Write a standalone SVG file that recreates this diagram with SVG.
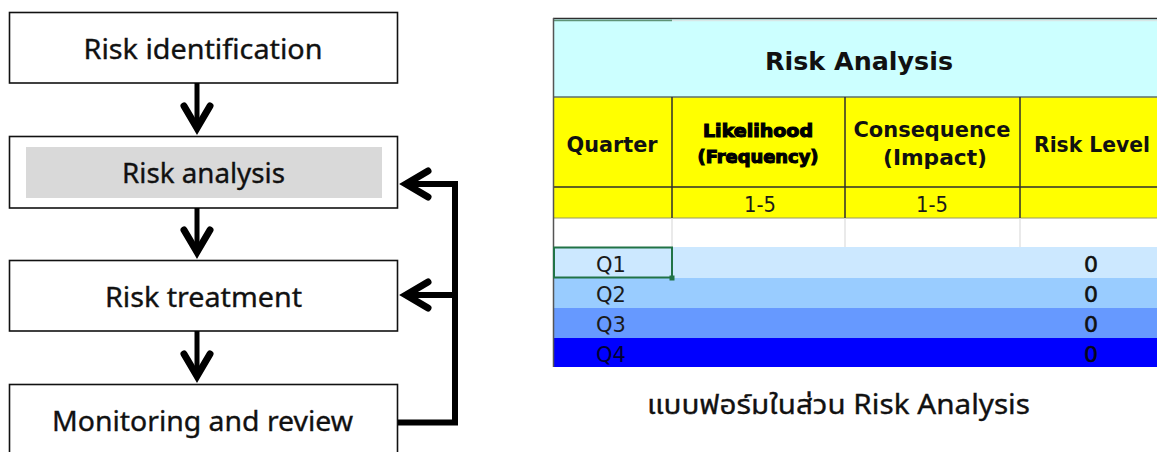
<svg xmlns="http://www.w3.org/2000/svg" width="1157" height="452" viewBox="0 0 1157 452">
  <style>
    .box { fill: #ffffff; stroke: #111111; stroke-width: 1.6; }
    .lbl { font-family: "Noto Sans", "DejaVu Sans", sans-serif; font-size: 27.5px; fill: #111111; stroke: #111111; stroke-width: 0.35; text-anchor: middle; }
    .flow { fill: none; stroke: #000000; stroke-width: 5; }
    .loop { fill: none; stroke: #000000; stroke-width: 6; stroke-linejoin: miter; }
    .th { font-family: "DejaVu Sans", Verdana, sans-serif; font-weight: bold; font-size: 21px; fill: #111111; text-anchor: middle; }
    .title { font-family: "DejaVu Sans", Verdana, sans-serif; font-weight: bold; font-size: 25px; fill: #111111; text-anchor: middle; }
    .heavy { font-family: "DejaVu Sans", sans-serif; font-weight: bold; font-size: 17px; fill: #000000; stroke: #000000; stroke-width: 1.1; text-anchor: middle; }
    .td { font-family: "DejaVu Sans", Verdana, sans-serif; font-size: 21px; fill: #1a1a1a; text-anchor: middle; }
    .num { font-family: "DejaVu Sans", Verdana, sans-serif; font-size: 22px; fill: #111111; stroke: #111111; stroke-width: 0.6; text-anchor: middle; }
    .grid { stroke: #2e2e2e; stroke-width: 1.5; }
    .faint { stroke: #dcdcdc; stroke-width: 1.2; }
    .caption { font-family: "Noto Sans", "Noto Sans Thai", "DejaVu Sans", sans-serif; font-size: 27px; fill: #111111; stroke: #111111; stroke-width: 0.35; }
  </style>
  <defs>
    <!-- open chevron head; the ref point is the inner vertex -->
    <marker id="chev" markerUnits="userSpaceOnUse" viewBox="-30 -20 44 40" markerWidth="44" markerHeight="40" refX="0" refY="0" orient="auto" overflow="visible">
      <path d="M-22,-13 L0,0 L-22,13" fill="none" stroke="#000000" stroke-width="7" stroke-linecap="round" stroke-linejoin="miter"/>
    </marker>
    <clipPath id="sheet">
      <rect x="552" y="16" width="605" height="351"/>
    </clipPath>
  </defs>

  <!-- process steps -->
  <g id="risk-identification">
    <rect class="box" x="9.5" y="12.5" width="388" height="70.5"/>
    <text class="lbl" x="203" y="59" textLength="239" lengthAdjust="spacingAndGlyphs">Risk identification</text>
  </g>
  <g id="risk-analysis">
    <rect class="box" x="9.5" y="136.5" width="388" height="71.5"/>
    <rect x="26" y="147" width="356" height="51" fill="#d9d9d9"/>
    <text class="lbl" x="203.5" y="183" textLength="163" lengthAdjust="spacingAndGlyphs">Risk analysis</text>
  </g>
  <g id="risk-treatment">
    <rect class="box" x="9.5" y="260.5" width="388" height="70.5"/>
    <text class="lbl" x="203.5" y="307" textLength="197" lengthAdjust="spacingAndGlyphs">Risk treatment</text>
  </g>
  <g id="monitoring-review">
    <rect class="box" x="9.5" y="384.5" width="388" height="70"/>
    <text class="lbl" x="202.5" y="431" textLength="301" lengthAdjust="spacingAndGlyphs">Monitoring and review</text>
  </g>

  <!-- connectors -->
  <g id="connectors">
    <path class="flow" d="M197,83 V128" marker-end="url(#chev)"/>
    <path class="flow" d="M197,208 V252" marker-end="url(#chev)"/>
    <path class="flow" d="M197,331 V376" marker-end="url(#chev)"/>
    <path class="loop" d="M398,422.5 H455 V184 H406" marker-end="url(#chev)"/>
    <path class="loop" d="M455,295 H406" marker-end="url(#chev)"/>
  </g>

  <!-- worksheet excerpt -->
  <g id="risk-analysis-sheet" clip-path="url(#sheet)">
    <rect x="553" y="19" width="604" height="78" fill="#ccffff"/>
    <rect x="553" y="97" width="604" height="121" fill="#ffff00"/>
    <rect x="553" y="218" width="604" height="29" fill="#ffffff"/>
    <rect x="553" y="247" width="604" height="31" fill="#cce8ff"/>
    <rect x="553" y="278" width="604" height="30" fill="#99ccff"/>
    <rect x="553" y="308" width="604" height="30" fill="#6699ff"/>
    <rect x="553" y="338" width="604" height="30" fill="#0000ff"/>

    <line class="grid" x1="553" y1="18.5" x2="1157" y2="18.5"/>
    <line x1="554" y1="20.5" x2="672" y2="20.5" stroke="#5f9477" stroke-width="1.5"/>
    <line x1="672" y1="20.5" x2="1157" y2="20.5" stroke="#d8e6e6" stroke-width="1.5"/>
    <line x1="553" y1="97" x2="1157" y2="97" stroke="#5c6e6e" stroke-width="1.5"/>
    <line class="grid" x1="553" y1="187" x2="1157" y2="187"/>
    <line x1="553" y1="218" x2="1157" y2="218" stroke="#9a9a60" stroke-width="1"/>
    <line class="grid" x1="672" y1="97" x2="672" y2="218"/>
    <line class="grid" x1="845" y1="97" x2="845" y2="218"/>
    <line class="grid" x1="1020" y1="97" x2="1020" y2="218"/>
    <line class="faint" x1="672" y1="218" x2="672" y2="247"/>
    <line class="faint" x1="845" y1="218" x2="845" y2="247"/>
    <line class="faint" x1="1020" y1="218" x2="1020" y2="247"/>
    <line x1="553.5" y1="18" x2="553.5" y2="368" stroke="#555555" stroke-width="1.5"/>

    <text class="title" x="859" y="70" textLength="188" lengthAdjust="spacingAndGlyphs">Risk Analysis</text>
    <text class="th" x="612" y="152" textLength="91" lengthAdjust="spacingAndGlyphs">Quarter</text>
    <text class="heavy" x="758" y="137" textLength="110" lengthAdjust="spacingAndGlyphs">Likelihood</text>
    <text class="heavy" x="758" y="163" textLength="121" lengthAdjust="spacingAndGlyphs">(Frequency)</text>
    <text class="th" x="932" y="137" textLength="157" lengthAdjust="spacingAndGlyphs">Consequence</text>
    <text class="th" x="935" y="165" textLength="104" lengthAdjust="spacingAndGlyphs">(Impact)</text>
    <text class="th" x="1092" y="152" textLength="116" lengthAdjust="spacingAndGlyphs">Risk Level</text>
    <text class="td" x="760" y="212" textLength="32" lengthAdjust="spacingAndGlyphs">1-5</text>
    <text class="td" x="932" y="212" textLength="32" lengthAdjust="spacingAndGlyphs">1-5</text>

    <text class="td" x="611" y="272">Q1</text>
    <text class="td" x="611" y="302">Q2</text>
    <text class="td" x="611" y="332">Q3</text>
    <text class="td" x="611" y="362" style="fill:#000033">Q4</text>
    <text class="num" x="1091" y="272">0</text>
    <text class="num" x="1091" y="302">0</text>
    <text class="num" x="1091" y="332">0</text>
    <text class="num" x="1091" y="362" style="fill:#000022">0</text>

    <!-- active cell frame -->
    <rect x="554" y="247.5" width="118" height="30" fill="none" stroke="#217346" stroke-width="2"/>
    <rect x="669.5" y="275.5" width="5" height="5" fill="#217346"/>
  </g>

  <text class="caption" x="647" y="414" textLength="383" lengthAdjust="spacingAndGlyphs">แบบฟอร์มในส่วน Risk Analysis</text>
</svg>
